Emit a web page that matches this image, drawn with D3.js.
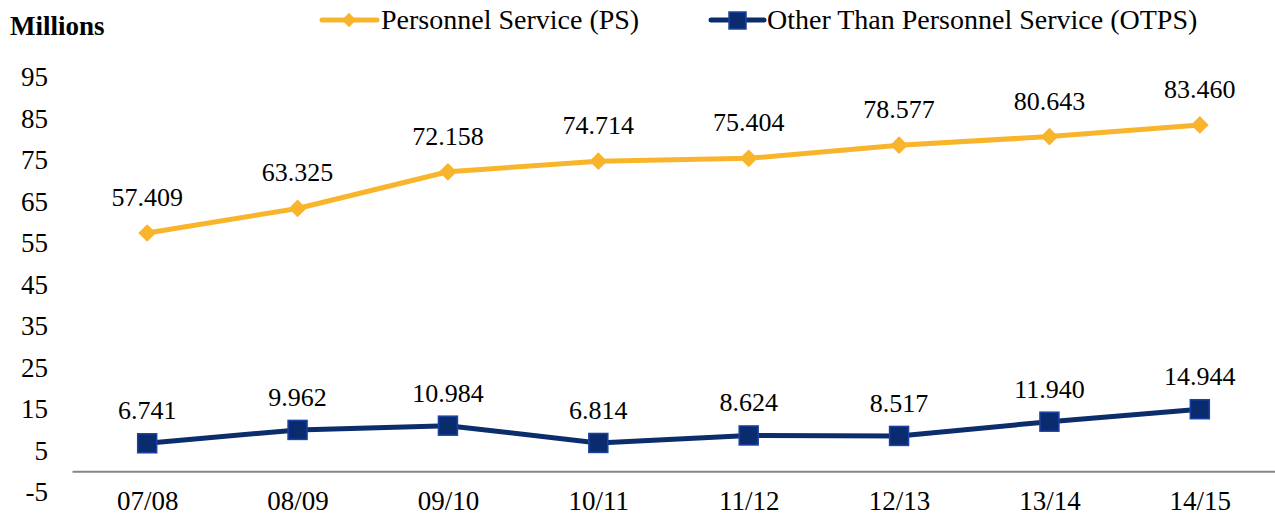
<!DOCTYPE html>
<html>
<head>
<meta charset="utf-8">
<script src="https://cdn.jsdelivr.net/npm/d3@7"></script>
<style>
  body { margin: 0; background: #fff; }
  svg { display: block; }
  svg text { font-family: "Liberation Serif", "Times New Roman", serif; fill: #000; }
</style>
</head>
<body>
<svg class="vis" width="1275" height="519"></svg>
<script>
// chart data
const years = ["07/08", "08/09", "09/10", "10/11", "11/12", "12/13", "13/14", "14/15"];
const psValues = [57.409, 63.325, 72.158, 74.714, 75.404, 78.577, 80.643, 83.460];
const otpsValues = [6.741, 9.962, 10.984, 6.814, 8.624, 8.517, 11.940, 14.944];
const yTicks = [-5, 5, 15, 25, 35, 45, 55, 65, 75, 85, 95];

const svg = d3.select("svg.vis");

const x = d3.scalePoint()
  .domain(years)
  .range([72, 1275])
  .padding(0.5);

const y = d3.scaleLinear()
  .domain([-5, 95])
  .range([492, 77]);

const gold = "#F8B52C";
const navy = "#0B2D6B";

// y axis labels (no line)
const yAxis = svg.append("g")
  .attr("transform", "translate(48,0)")
  .call(d3.axisLeft(y).tickValues(yTicks).tickSize(0).tickPadding(0).tickFormat(d => String(d)));
yAxis.select(".domain").remove();
yAxis.selectAll("text")
  .attr("font-size", 27);

// x axis at zero
const xAxis = svg.append("g")
  .attr("transform", `translate(0,${y(0)})`)
  .call(d3.axisBottom(x).tickSize(0));
xAxis.select(".domain")
  .attr("stroke", "#868686")
  .attr("stroke-width", 2);
xAxis.selectAll("text")
  .attr("font-size", 27)
  .attr("dy", null)
  .attr("y", 510 - y(0));

svg.append("text")
  .attr("x", 10)
  .attr("y", 35)
  .attr("font-size", 27)
  .attr("font-weight", "bold")
  .text("Millions");

const line = d3.line()
  .x((d, i) => x(years[i]))
  .y(d => y(d));

// PS series
svg.append("path")
  .datum(psValues)
  .attr("fill", "none")
  .attr("stroke", gold)
  .attr("stroke-width", 5)
  .attr("stroke-linejoin", "round")
  .attr("d", line);

const diamond = d3.symbol().type(d3.symbolDiamond2).size(200);

svg.append("g")
  .selectAll("path")
  .data(psValues)
  .join("path")
  .attr("d", diamond)
  .attr("fill", gold)
  .attr("transform", (d, i) => `translate(${x(years[i])},${y(d)})`);

// OTPS series
svg.append("path")
  .datum(otpsValues)
  .attr("fill", "none")
  .attr("stroke", navy)
  .attr("stroke-width", 5)
  .attr("stroke-linejoin", "round")
  .attr("d", line);

svg.append("g")
  .selectAll("rect")
  .data(otpsValues)
  .join("rect")
  .attr("x", (d, i) => x(years[i]) - 9.5)
  .attr("y", d => y(d) - 9.5)
  .attr("width", 19)
  .attr("height", 19)
  .attr("fill", "#0A2C6E")
  .attr("stroke", "#1D42A3")
  .attr("stroke-width", 1.5);

// data labels
const fmt = d3.format(".3f");
svg.append("g")
  .selectAll("text")
  .data(psValues)
  .join("text")
  .attr("x", (d, i) => x(years[i]))
  .attr("y", d => y(d) - 27)
  .attr("text-anchor", "middle")
  .attr("font-size", 26)
  .text(d => fmt(d));

svg.append("g")
  .selectAll("text")
  .data(otpsValues)
  .join("text")
  .attr("x", (d, i) => x(years[i]))
  .attr("y", d => y(d) - 24)
  .attr("text-anchor", "middle")
  .attr("font-size", 26)
  .text(d => fmt(d));

// legend
const legend = svg.append("g");
const psLeg = legend.append("g");
psLeg.append("line")
  .attr("x1", 322).attr("x2", 377).attr("y1", 20).attr("y2", 20)
  .attr("stroke", gold).attr("stroke-width", 5).attr("stroke-linecap", "round");
psLeg.append("path")
  .attr("d", d3.symbol().type(d3.symbolDiamond2).size(130))
  .attr("fill", gold)
  .attr("transform", "translate(349,20)");
psLeg.append("text")
  .attr("x", 381).attr("y", 29)
  .attr("font-size", 28)
  .text("Personnel Service (PS)");

const otLeg = legend.append("g");
otLeg.append("line")
  .attr("x1", 711).attr("x2", 764).attr("y1", 20).attr("y2", 20)
  .attr("stroke", navy).attr("stroke-width", 5).attr("stroke-linecap", "round");
otLeg.append("rect")
  .attr("x", 729).attr("y", 12).attr("width", 17).attr("height", 17)
  .attr("fill", "#0A2C6E").attr("stroke", "#1D42A3").attr("stroke-width", 1.5);
otLeg.append("text")
  .attr("x", 767).attr("y", 29)
  .attr("font-size", 28)
  .text("Other Than Personnel Service (OTPS)");
</script>
</body>
</html>
